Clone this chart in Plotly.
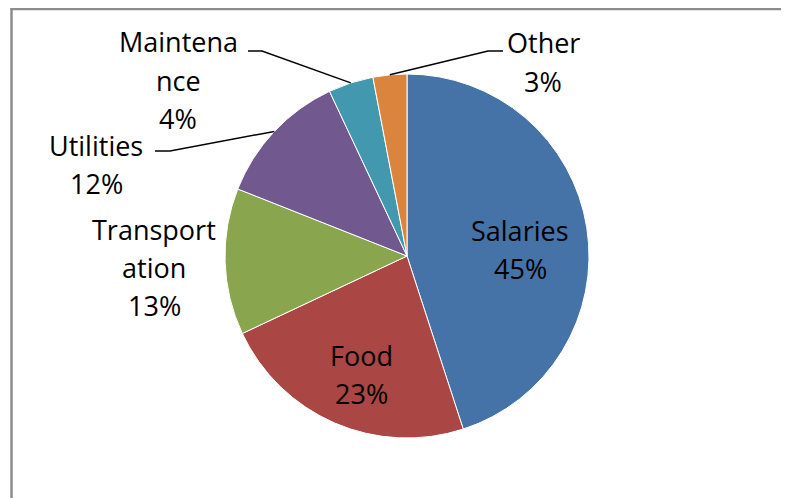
import plotly.graph_objects as go
import math

categories = ["Salaries", "Food", "Transportation", "Utilities", "Maintenance", "Other"]
values = [45, 23, 13, 12, 4, 3]
display_lines = [["Salaries"], ["Food"], ["Transport", "ation"], ["Utilities"], ["Maintena", "nce"], ["Other"]]
colors = ["#4572A7", "#AA4643", "#89A54E", "#71588F", "#4198AF", "#DB843D"]

OFF = 8  # page body margin offset
W, H = 789 - OFF, 498 - OFF
CX, CY, R = 407, 256, 182

# label block placement (first-line center, px) and leader elbows
label_pos = {
    "Salaries": (520, 230),
    "Food": (361, 355),
    "Transportation": (154, 229),
    "Utilities": (96, 145),
    "Maintenance": (178, 42),
    "Other": (543, 43),
}
leaders = {
    "Utilities": [(155, 151), (170, 151)],
    "Maintenance": [(248, 51), (262, 51)],
    "Other": [(503, 51), (488, 51)],
}
LINE_GAP = 38

def px(x):
    return (x - OFF) / W

def py(y):
    return 1 - (y - OFF) / H

fig = go.Figure(go.Pie(
    labels=categories, values=values, sort=False, direction="clockwise",
    rotation=0, textinfo="none", hoverinfo="label+percent",
    marker=dict(colors=colors, line=dict(color="white", width=1)),
    domain=dict(x=[px(CX - R), px(CX + R)], y=[py(CY + R), py(CY - R)]),
    showlegend=False,
))

total = sum(values)
annotations = []
shapes = []
cum = 0
for cat, v, lines in zip(categories, values, display_lines):
    mid = (cum + v / 2) / total * 2 * math.pi
    cum += v
    pct = f"{round(v / total * 100)}%"
    x0, y0 = label_pos[cat]
    for i, t in enumerate(lines + [pct]):
        annotations.append(dict(
            x=px(x0), y=py(y0 + i * LINE_GAP), xref="paper", yref="paper",
            text=t, showarrow=False, xanchor="center", yanchor="middle",
            font=dict(family="Open Sans", size=27, color="black"),
        ))
    if cat in leaders:
        ex = CX + R * math.sin(mid)
        ey = CY - R * math.cos(mid)
        pts = leaders[cat] + [(ex, ey)]
        path = "M " + " L ".join(f"{px(a)},{py(b)}" for a, b in pts)
        shapes.append(dict(type="path", xref="paper", yref="paper", path=path,
                           line=dict(color="black", width=1.5)))

frame = dict(color="#8C8C8C", width=2.5)
shapes.append(dict(type="line", xref="paper", yref="paper",
                   x0=px(10.5), x1=px(W + 80), y0=py(9), y1=py(9), line=frame))
shapes.append(dict(type="line", xref="paper", yref="paper",
                   x0=px(11.5), x1=px(11.5), y0=py(8), y1=py(H + 80), line=frame))

fig.update_layout(
    width=W, height=H, margin=dict(l=0, r=0, t=0, b=0),
    paper_bgcolor="white", plot_bgcolor="white",
    annotations=annotations, shapes=shapes,
)

fig.write_html("out.html")
